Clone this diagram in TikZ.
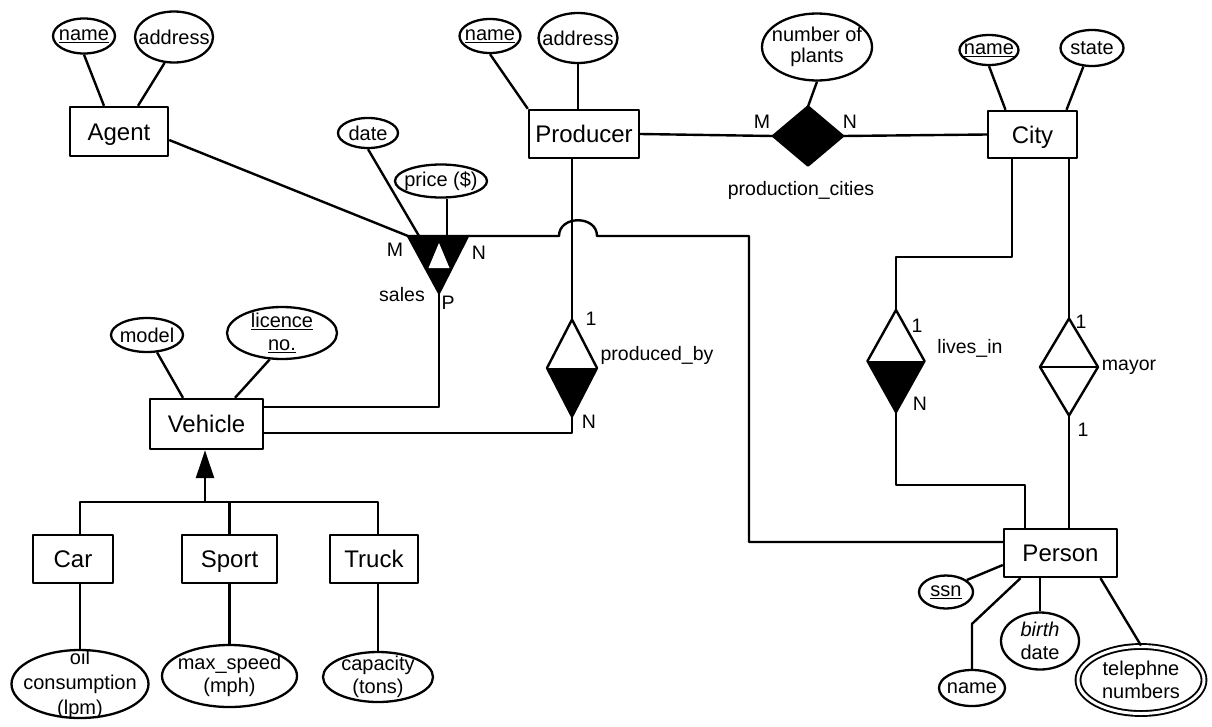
\documentclass[tikz,border=0pt]{standalone}
\usepackage{fontspec}
\setmainfont{Liberation Sans}
\usetikzlibrary{shapes.geometric,arrows.meta}
\tikzset{
  ent/.style={draw, line width=2.4pt, inner sep=0pt, minimum height=48pt, text height=17pt, text depth=0pt, font=\fontsize{24}{28}\selectfont},
  attr/.style 2 args={ellipse, draw, line width=2.3pt, inner sep=0pt, minimum width=#1, minimum height=#2},
  atxt/.style={font=\fontsize{20}{23}\selectfont, align=center, inner sep=0pt},
  reln/.style 2 args={diamond, draw, line width=2.4pt, inner sep=0pt, outer sep=0pt, minimum width=#1, minimum height=#2},
  lab/.style={font=\fontsize{19.5}{22}\selectfont, inner sep=0pt},
}
\begin{document}
\begin{tikzpicture}[x=1pt,y=-1pt,line width=2.4pt,line join=round]
\fill[white] (0,0) rectangle (1212,726);
\useasboundingbox (0,0) rectangle (1212,726);

% ---------- entities ----------
\node[ent, minimum width=98pt, minimum height=49pt] (agent) at (119,131.5) {Agent};
\node[ent, minimum width=110pt] (prod) at (584,134) {Producer};
\node[ent, minimum width=89pt, minimum height=47pt] (city) at (1032.5,134.5) {City};
\node[ent, minimum width=113pt] (person) at (1060.5,553) {Person};
\node[ent, minimum width=113pt, minimum height=50pt] (veh) at (206.5,424) {Vehicle};
\node[ent, minimum width=80pt] (car) at (73,559) {Car};
\node[ent, minimum width=95pt] (sport) at (229.5,559) {Sport};
\node[ent, minimum width=88pt] (truck) at (374,559) {Truck};

% ---------- attributes ----------
\node[attr={62pt}{35pt}, label={[atxt]center:\underline{name}}] (agname) at (84,36) {};
\node[attr={78pt}{51pt}, label={[atxt]center:address}] (agaddr) at (174,37) {};
\node[attr={61pt}{34pt}, label={[atxt]center:\underline{name}}] (pname) at (490,36) {};
\node[attr={79pt}{50pt}, label={[atxt]center:address}] (paddr) at (578,38) {};
\node[attr={59pt}{30pt}, label={[atxt]center:\underline{name}}] (cname) at (989,50) {};
\node[attr={63pt}{36pt}, label={[atxt]center:state}] (cstate) at (1092,48) {};
\node[attr={110pt}{67pt}, label={[atxt,font=\fontsize{20}{21}\selectfont]center:{number of\\plants}}] (nplants) at (817,47) {};
\node[attr={60pt}{30pt}, label={[atxt]center:date}] (date) at (368,133) {};
\node[attr={92pt}{33pt}, label={[atxt]center:price (\$)}] (price) at (441,181) {};
\node[attr={72pt}{34pt}, label={[atxt]center:model}] (model) at (147,335) {};
\node[attr={110pt}{52pt}, label={[atxt]center:{\underline{licence}\\\underline{no.}}}] (licence) at (282,333) {};
\node[attr={137pt}{68pt}, label={[atxt,font=\fontsize{20}{25}\selectfont]center:{oil\\consumption\\(lpm)}}] (oil) at (80,684) {};
\node[attr={135pt}{62pt}, label={[atxt]center:{max\_speed\\(mph)}}] (speed) at (229.5,676) {};
\node[attr={110pt}{50pt}, label={[atxt]center:{capacity\\(tons)}}] (cap) at (378,677) {};
\node[attr={54pt}{33pt}, label={[atxt]center:\underline{ssn}}] (ssn) at (946,592) {};
\node[attr={66pt}{36pt}, label={[atxt]center:name}] (pername) at (972,688) {};
\node[attr={78pt}{57pt}, label={[atxt]center:{\textit{birth}\\date}}] (bdate) at (1040,641) {};
\node[attr={126pt}{67pt}, double, double distance=3pt, line width=1.9pt, label={[atxt]center:{telephne\\numbers}}] (tel) at (1141,680) {};

% ---------- relationships ----------
\node[reln={70pt}{59pt}, fill=black] (pc) at (808,136) {};
\node[reln={50pt}{97pt}] (pbd) at (572,368) {};
\fill (pbd.west) -- (pbd.south) -- (pbd.east) -- cycle;
\node[reln={57pt}{102pt}] (li) at (896,361) {};
\fill (li.west) -- (li.south) -- (li.east) -- cycle;
\node[reln={58pt}{97pt}] (mayor) at (1069,367) {};
\draw (mayor.west) -- (mayor.east);

% sales (ternary) triangle
\coordinate (stl) at (408,236);
\coordinate (str) at (468,236);
\coordinate (stm) at (419,236);
\coordinate (sp) at (447,236);
\coordinate (sapex) at (439,293);
\filldraw[line join=miter] (stl) -- (str) -- (sapex) -- cycle;
\fill[white] (439,243) -- (428.5,268) -- (449.5,268) -- cycle;

% ---------- connectors ----------
\draw (agname.south) -- ([xshift=-15pt]agent.north);
\draw (agaddr.250) -- ([xshift=19pt]agent.north);
\draw (pname.south) -- (prod.north west);
\draw (paddr.south) -- (paddr.south |- prod.north);
\draw (cname.south) -- ([xshift=-27pt]city.north);
\draw (cstate.245) -- ([xshift=34pt]city.north);
\draw (nplants.south) -- (pc.north);
\draw (prod.east) -- (pc.west);
\draw (pc.east) -- (city.west);

\draw ([yshift=-8.5pt]agent.east) -- (stl);
\draw (date.south) -- (stm);
\draw (price.south -| sp) -- (sp);
\coordinate (hopL) at (559,236);
\coordinate (hopR) at (597,236);
\coordinate (turn) at (749,236);
\draw (str) -- (hopL) .. controls +(0,-21) and +(0,-21) .. (hopR) -- (turn) |- ([yshift=11pt]person.west);
\draw (sapex) |- ([yshift=17pt]veh.east);

\draw (prod.south -| pbd.north) -- (pbd.north);
\draw (pbd.south) |- ([yshift=-9pt]veh.east);

\draw ([xshift=-20.5pt]city.south) -- ++(0,98) -| (li.north);
\draw (li.south) -- ++(0,73) -| ([xshift=-35.5pt]person.north);
\draw (city.south -| mayor.north) -- (mayor.north);
\draw (mayor.south) -- (mayor.south |- person.north);

\draw (ssn.30) -- ([yshift=-12pt]person.west);
\draw (pername.north) -- ++(0,-45) -- ([xshift=-40pt]person.south);
\draw (person.south -| bdate.north) -- (bdate.north);
\draw ([xshift=40pt]person.south) -- (tel.north);

\draw (model.300) -- ([xshift=-23.5pt]veh.north);
\draw (licence.245) -- ([xshift=28.5pt]veh.north);
\coordinate (isa) at (205,502);
\draw[-{Triangle[width=18pt,length=28pt]}] (isa) -- (isa |- veh.south);
\draw (car.north -| oil.north) -- (isa -| oil.north) -- (isa -| cap.north) -- (truck.north -| cap.north);
\draw (sport.north) -- (sport.north |- isa);
\draw (car.south -| oil.north) -- (oil.north);
\draw (sport.south) -- (speed.north);
\draw (truck.south -| cap.north) -- (cap.north);

% ---------- labels ----------
\node[lab] (lsM) at (395,250) {M};
\node[lab] (lsN) at (479,253) {N};
\node[lab] (lsales) at (402,295) {sales};
\node[lab] (lsP) at (448,303) {P};
\node[lab] (lpcM) at (762,122) {M};
\node[lab] (lpcN) at (850,122) {N};
\node[lab] (lpc) at (801,190) {production\_cities};
\node[lab] (lpb1) at (591,319) {1};
\node[lab] (lpb) at (657,355) {produced\_by};
\node[lab] (lpbN) at (589,422) {N};
\node[lab] (lli1) at (917,326) {1};
\node[lab] (lli) at (970,348) {lives\_in};
\node[lab] (lliN) at (920,404) {N};
\node[lab] (lmy1) at (1081,322) {1};
\node[lab] (lmy) at (1129,367) {mayor};
\node[lab] (lmy2) at (1083,430) {1};
\end{tikzpicture}
\end{document}
